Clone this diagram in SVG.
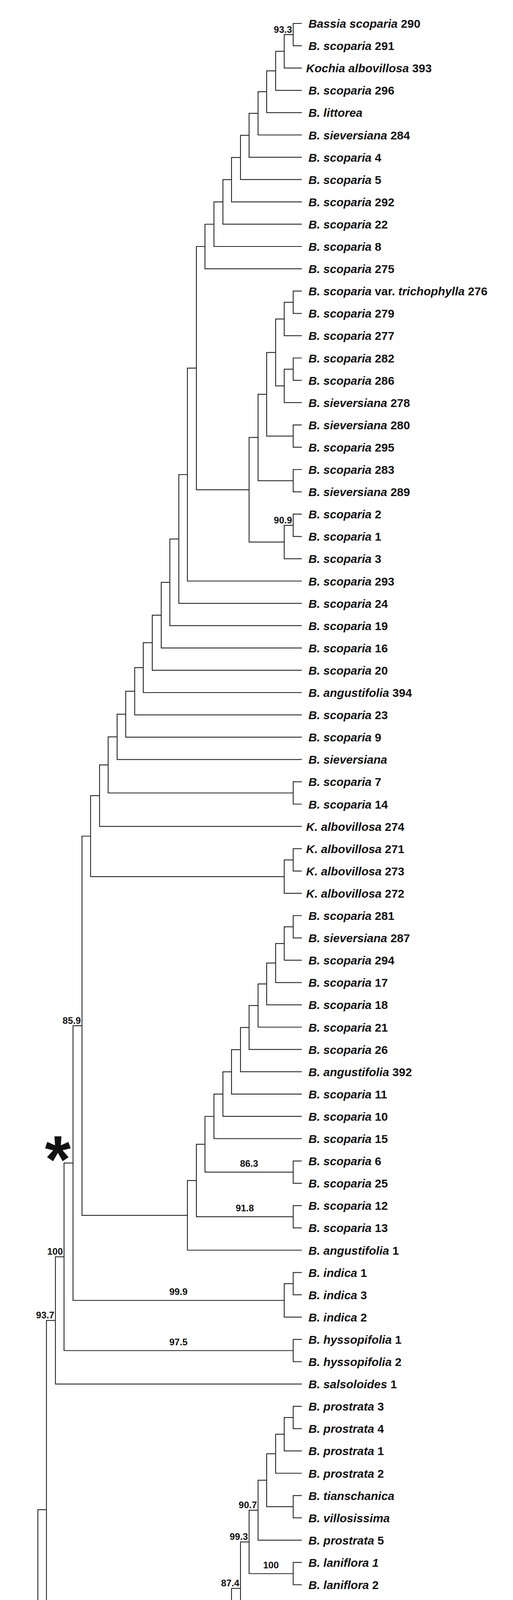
<svg xmlns="http://www.w3.org/2000/svg" width="1314" height="5256" viewBox="0 0 1314 5256">
<style>
.e{fill:none;stroke:#222;stroke-width:2.2}
text{font-family:"Liberation Sans",Arial,sans-serif;font-weight:bold;fill:#111}
.t{font-size:30px}
.i{font-style:italic}
.s{font-size:24px;text-anchor:end}
.m{font-size:24px;text-anchor:middle}
.o{font-size:36px}
</style>
<rect width="1314" height="5256" fill="#fff"/>
<g id="connectors" class="e">
<path d="M773 60H751V117.1H773"/>
<path d="M751 88.6H728V174.2H773"/>
<path d="M728 131.4H706V231.3H773"/>
<path d="M706 181.4H683V288.4H773"/>
<path d="M683 234.9H661V345.5H773"/>
<path d="M661 290.2H638V402.6H773"/>
<path d="M638 346.4H616V459.7H773"/>
<path d="M616 403.1H593V516.8H773"/>
<path d="M593 459.9H571V573.9H773"/>
<path d="M571 516.9H548V631H773"/>
<path d="M548 574H525V688.1H773"/>
<path d="M773 745.2H751V802.3H773"/>
<path d="M751 773.8H728V859.4H773"/>
<path d="M773 916.5H751V973.6H773"/>
<path d="M751 945.1H728V1030.7H773"/>
<path d="M728 816.6H706V987.9H728"/>
<path d="M773 1087.8H751V1144.9H773"/>
<path d="M706 902.3H683V1116.4H751"/>
<path d="M773 1202H751V1259.1H773"/>
<path d="M683 1009.3H661V1230.6H751"/>
<path d="M773 1316.2H751V1373.3H773"/>
<path d="M751 1344.8H728V1430.4H773"/>
<path d="M661 1119.9H638V1387.6H728"/>
<path d="M525 631H503V1253.8H638"/>
<path d="M503 942.4H480V1487.5H773"/>
<path d="M480 1215H458V1544.6H773"/>
<path d="M458 1379.8H435V1601.7H773"/>
<path d="M435 1490.8H413V1658.8H773"/>
<path d="M413 1574.8H390V1715.9H773"/>
<path d="M390 1645.4H367V1773H773"/>
<path d="M367 1709.2H345V1830.1H773"/>
<path d="M345 1769.7H322V1887.2H773"/>
<path d="M322 1828.4H300V1944.3H773"/>
<path d="M773 2001.4H751V2058.5H773"/>
<path d="M300 1886.4H277V2030H751"/>
<path d="M277 1958.2H255V2115.6H773"/>
<path d="M773 2172.7H751V2229.8H773"/>
<path d="M751 2201.3H728V2286.9H773"/>
<path d="M255 2036.9H232V2244.1H728"/>
<path d="M773 2344H751V2401.1H773"/>
<path d="M751 2372.6H728V2458.2H773"/>
<path d="M728 2415.4H706V2515.3H773"/>
<path d="M706 2465.4H683V2572.4H773"/>
<path d="M683 2518.9H661V2629.5H773"/>
<path d="M661 2574.2H638V2686.6H773"/>
<path d="M638 2630.4H616V2743.7H773"/>
<path d="M616 2687.1H593V2800.8H773"/>
<path d="M593 2743.9H571V2857.9H773"/>
<path d="M571 2800.9H548V2915H773"/>
<path d="M773 2972.1H751V3029.2H773"/>
<path d="M548 2858H525V3000.7H751"/>
<path d="M773 3086.3H751V3143.4H773"/>
<path d="M525 2929.3H503V3114.9H751"/>
<path d="M503 3022.1H480V3200.5H773"/>
<path d="M232 2140.5H210V3111.3H480"/>
<path d="M773 3257.6H751V3314.7H773"/>
<path d="M751 3286.2H728V3371.8H773"/>
<path d="M210 2625.9H187V3329H728"/>
<path d="M773 3428.9H751V3486H773"/>
<path d="M187 2977.4H164V3457.5H751"/>
<path d="M164 3217.4H142V3543.1H773"/>
<path d="M773 3600.2H751V3657.3H773"/>
<path d="M751 3628.8H728V3714.4H773"/>
<path d="M728 3671.6H706V3771.5H773"/>
<path d="M773 3828.6H751V3885.7H773"/>
<path d="M706 3721.6H683V3857.2H751"/>
<path d="M683 3789.4H661V3942.8H773"/>
<path d="M773 3999.9H751V4057H773"/>
<path d="M661 3866.1H638V4028.5H751"/>
<path d="M773 4114.1H751V4171.2H773"/>
<path d="M751 4142.7H728V4228.3H773"/>
<path d="M638 3947.3H616V4185.5H728"/>
<path d="M773 4285.4H751V4342.5H773"/>
<path d="M751 4314H728V4399.6H773"/>
<path d="M728 4356.8H706V4456.7H773"/>
<path d="M706 4406.8H683V4513.8H773"/>
<path d="M683 4460.3H661V4570.9H773"/>
<path d="M773 4628H751V4685.1H773"/>
<path d="M751 4656.6H728V4742.2H773"/>
<path d="M728 4699.4H706V4799.3H773"/>
<path d="M661 4515.6H638V4749.4H706"/>
<path d="M616 4066.4H593V4632.5H638"/>
<path d="M142 3380.3H119V4349.5H593"/>
<path d="M773 4856.4H751V4913.5H773"/>
<path d="M119 3864.9H97V4885H751"/>
<path d="M773 4970.6H751V5027.7H773"/>
<path d="M751 4999.2H728V5084.8H773"/>
<path d="M728 5042H706V5141.9H773"/>
<path d="M97 4374.9H74V5092H706"/>
<path d="M74 4733.4H52V5199H773"/>
<path d="M1145 4947V5227"/>
</g>
<g id="leaves" class="t">
<g id="L1"><text x="790" y="71"><tspan class="i">Bassia scoparia</tspan> 290</text></g>
<g id="L2"><text x="790" y="128.1"><tspan class="i">B. scoparia</tspan> 291</text></g>
<g id="L3"><text x="784" y="185.2"><tspan class="i">Kochia albovillosa</tspan> 393</text></g>
<g id="L4"><text x="790" y="242.3"><tspan class="i">B. scoparia</tspan> 296</text></g>
<g id="L5"><text x="790" y="299.4"><tspan class="i">B. littorea</tspan></text></g>
<g id="L6"><text x="790" y="356.5"><tspan class="i">B. sieversiana</tspan> 284</text></g>
<g id="L7"><text x="790" y="413.6"><tspan class="i">B. scoparia</tspan> 4</text></g>
<g id="L8"><text x="790" y="470.7"><tspan class="i">B. scoparia</tspan> 5</text></g>
<g id="L9"><text x="790" y="527.8"><tspan class="i">B. scoparia</tspan> 292</text></g>
<g id="L10"><text x="790" y="584.9"><tspan class="i">B. scoparia</tspan> 22</text></g>
<g id="L11"><text x="790" y="642"><tspan class="i">B. scoparia</tspan> 8</text></g>
<g id="L12"><text x="790" y="699.1"><tspan class="i">B. scoparia</tspan> 275</text></g>
<g id="L13"><text x="790" y="756.2"><tspan class="i">B. scoparia</tspan> var. <tspan class="i">trichophylla</tspan> 276</text></g>
<g id="L14"><text x="790" y="813.3"><tspan class="i">B. scoparia</tspan> 279</text></g>
<g id="L15"><text x="790" y="870.4"><tspan class="i">B. scoparia</tspan> 277</text></g>
<g id="L16"><text x="790" y="927.5"><tspan class="i">B. scoparia</tspan> 282</text></g>
<g id="L17"><text x="790" y="984.6"><tspan class="i">B. scoparia</tspan> 286</text></g>
<g id="L18"><text x="790" y="1041.7"><tspan class="i">B. sieversiana</tspan> 278</text></g>
<g id="L19"><text x="790" y="1098.8"><tspan class="i">B. sieversiana</tspan> 280</text></g>
<g id="L20"><text x="790" y="1155.9"><tspan class="i">B. scoparia</tspan> 295</text></g>
<g id="L21"><text x="790" y="1213"><tspan class="i">B. scoparia</tspan> 283</text></g>
<g id="L22"><text x="790" y="1270.1"><tspan class="i">B. sieversiana</tspan> 289</text></g>
<g id="L23"><text x="790" y="1327.2"><tspan class="i">B. scoparia</tspan> 2</text></g>
<g id="L24"><text x="790" y="1384.3"><tspan class="i">B. scoparia</tspan> 1</text></g>
<g id="L25"><text x="790" y="1441.4"><tspan class="i">B. scoparia</tspan> 3</text></g>
<g id="L26"><text x="790" y="1498.5"><tspan class="i">B. scoparia</tspan> 293</text></g>
<g id="L27"><text x="790" y="1555.6"><tspan class="i">B. scoparia</tspan> 24</text></g>
<g id="L28"><text x="790" y="1612.7"><tspan class="i">B. scoparia</tspan> 19</text></g>
<g id="L29"><text x="790" y="1669.8"><tspan class="i">B. scoparia</tspan> 16</text></g>
<g id="L30"><text x="790" y="1726.9"><tspan class="i">B. scoparia</tspan> 20</text></g>
<g id="L31"><text x="790" y="1784"><tspan class="i">B. angustifolia</tspan> 394</text></g>
<g id="L32"><text x="790" y="1841.1"><tspan class="i">B. scoparia</tspan> 23</text></g>
<g id="L33"><text x="790" y="1898.2"><tspan class="i">B. scoparia</tspan> 9</text></g>
<g id="L34"><text x="790" y="1955.3"><tspan class="i">B. sieversiana</tspan></text></g>
<g id="L35"><text x="790" y="2012.4"><tspan class="i">B. scoparia</tspan> 7</text></g>
<g id="L36"><text x="790" y="2069.5"><tspan class="i">B. scoparia</tspan> 14</text></g>
<g id="L37"><text x="784" y="2126.6"><tspan class="i">K. albovillosa</tspan> 274</text></g>
<g id="L38"><text x="784" y="2183.7"><tspan class="i">K. albovillosa</tspan> 271</text></g>
<g id="L39"><text x="784" y="2240.8"><tspan class="i">K. albovillosa</tspan> 273</text></g>
<g id="L40"><text x="784" y="2297.9"><tspan class="i">K. albovillosa</tspan> 272</text></g>
<g id="L41"><text x="790" y="2355"><tspan class="i">B. scoparia</tspan> 281</text></g>
<g id="L42"><text x="790" y="2412.1"><tspan class="i">B. sieversiana</tspan> 287</text></g>
<g id="L43"><text x="790" y="2469.2"><tspan class="i">B. scoparia</tspan> 294</text></g>
<g id="L44"><text x="790" y="2526.3"><tspan class="i">B. scoparia</tspan> 17</text></g>
<g id="L45"><text x="790" y="2583.4"><tspan class="i">B. scoparia</tspan> 18</text></g>
<g id="L46"><text x="790" y="2640.5"><tspan class="i">B. scoparia</tspan> 21</text></g>
<g id="L47"><text x="790" y="2697.6"><tspan class="i">B. scoparia</tspan> 26</text></g>
<g id="L48"><text x="790" y="2754.7"><tspan class="i">B. angustifolia</tspan> 392</text></g>
<g id="L49"><text x="790" y="2811.8"><tspan class="i">B. scoparia</tspan> 11</text></g>
<g id="L50"><text x="790" y="2868.9"><tspan class="i">B. scoparia</tspan> 10</text></g>
<g id="L51"><text x="790" y="2926"><tspan class="i">B. scoparia</tspan> 15</text></g>
<g id="L52"><text x="790" y="2983.1"><tspan class="i">B. scoparia</tspan> 6</text></g>
<g id="L53"><text x="790" y="3040.2"><tspan class="i">B. scoparia</tspan> 25</text></g>
<g id="L54"><text x="790" y="3097.3"><tspan class="i">B. scoparia</tspan> 12</text></g>
<g id="L55"><text x="790" y="3154.4"><tspan class="i">B. scoparia</tspan> 13</text></g>
<g id="L56"><text x="790" y="3211.5"><tspan class="i">B. angustifolia</tspan> 1</text></g>
<g id="L57"><text x="790" y="3268.6"><tspan class="i">B. indica</tspan> 1</text></g>
<g id="L58"><text x="790" y="3325.7"><tspan class="i">B. indica</tspan> 3</text></g>
<g id="L59"><text x="790" y="3382.8"><tspan class="i">B. indica</tspan> 2</text></g>
<g id="L60"><text x="790" y="3439.9"><tspan class="i">B. hyssopifolia</tspan> 1</text></g>
<g id="L61"><text x="790" y="3497"><tspan class="i">B. hyssopifolia</tspan> 2</text></g>
<g id="L62"><text x="790" y="3554.1"><tspan class="i">B. salsoloides</tspan> 1</text></g>
<g id="L63"><text x="790" y="3611.2"><tspan class="i">B. prostrata</tspan> 3</text></g>
<g id="L64"><text x="790" y="3668.3"><tspan class="i">B. prostrata</tspan> 4</text></g>
<g id="L65"><text x="790" y="3725.4"><tspan class="i">B. prostrata</tspan> 1</text></g>
<g id="L66"><text x="790" y="3782.5"><tspan class="i">B. prostrata</tspan> 2</text></g>
<g id="L67"><text x="790" y="3839.6"><tspan class="i">B. tianschanica</tspan></text></g>
<g id="L68"><text x="790" y="3896.7"><tspan class="i">B. villosissima</tspan></text></g>
<g id="L69"><text x="790" y="3953.8"><tspan class="i">B. prostrata</tspan> 5</text></g>
<g id="L70"><text x="790" y="4010.9"><tspan class="i">B. laniflora 1</tspan></text></g>
<g id="L71"><text x="790" y="4068"><tspan class="i">B. laniflora</tspan> 2</text></g>
<g id="L72"><text x="790" y="4125.1"><tspan class="i">B. lasiantha</tspan></text></g>
<g id="L73"><text x="790" y="4182.2"><tspan class="i">B. pilosa</tspan> 1</text></g>
<g id="L74"><text x="790" y="4239.3"><tspan class="i">B. pilosa</tspan> 2</text></g>
<g id="L75"><text x="790" y="4296.4"><tspan class="i">B. iranica</tspan></text></g>
<g id="L76"><text x="790" y="4353.5"><tspan class="i">B. odontoptera</tspan></text></g>
<g id="L77"><text x="790" y="4410.6"><tspan class="i">B. stellaris</tspan> 2</text></g>
<g id="L78"><text x="790" y="4467.7"><tspan class="i">B. stellaris</tspan> 1</text></g>
<g id="L79"><text x="790" y="4524.8"><tspan class="i">B. muricata</tspan></text></g>
<g id="L80"><text x="790" y="4581.9"><tspan class="i">B. eriophora</tspan></text></g>
<g id="L81"><text x="790" y="4639"><tspan class="i">B. arabica</tspan> 1</text></g>
<g id="L82"><text x="790" y="4696.1"><tspan class="i">B. arabica</tspan> 2</text></g>
<g id="L83"><text x="790" y="4753.2"><tspan class="i">B. salsoloides</tspan> 2</text></g>
<g id="L84"><text x="790" y="4810.3"><tspan class="i">B. tomentosa</tspan></text></g>
<g id="L85"><text x="790" y="4867.4"><tspan class="i">B. eriantha</tspan> 1</text></g>
<g id="L86"><text x="790" y="4924.5"><tspan class="i">B. eriantha</tspan> 2</text></g>
<g id="L87"><text x="784" y="4981.6"><tspan class="i">Camphorosma lessingii</tspan></text></g>
<g id="L88"><text x="784" y="5038.7"><tspan class="i">C. monspeliaca</tspan></text></g>
<g id="L89"><text x="784" y="5095.8"><tspan class="i">C. songorica</tspan></text></g>
<g id="L90"><text x="784" y="5152.9"><tspan class="i">C. annua</tspan></text></g>
<g id="L91"><text x="784" y="5210"><tspan class="i">Sedobassia sedoides</tspan></text></g>
</g>
<g id="support">
<text class="s" x="748" y="83.6">93.3</text>
<text class="s" x="748" y="1339.8">90.9</text>
<text class="s" x="207" y="2620.9">85.9</text>
<text class="s" x="161" y="3212.4">100</text>
<text class="s" x="139" y="3375.3">93.7</text>
<text class="s" x="658" y="3861.1">90.7</text>
<text class="s" x="635" y="3942.3">99.3</text>
<text class="s" x="613" y="4061.4">87.4</text>
<text class="s" x="748" y="4137.7">86.6</text>
<text class="s" x="94" y="4369.9">100</text>
<text class="s" x="725" y="4351.8">89.4</text>
<text class="s" x="703" y="4401.8">99.4</text>
<text class="s" x="680" y="4455.3">93</text>
<text class="s" x="748" y="4651.6">94.9</text>
<text class="s" x="703" y="4744.4">92.9</text>
<text class="s" x="633" y="4658">86.7</text>
<text class="s" x="748" y="4994.2">98.5</text>
<text class="m" x="638" y="2986.7">86.3</text>
<text class="m" x="627" y="3100.9">91.8</text>
<text class="m" x="457" y="3315">99.9</text>
<text class="m" x="457" y="3443.5">97.5</text>
<text class="m" x="694" y="4014.5">100</text>
<text class="m" x="672" y="4171.5">98</text>
<text class="m" x="424" y="4871">99.4</text>
<text class="m" x="390" y="5078">100</text>
</g>
<g id="marker-asterisk"><text x="148" y="3027" style="font-size:170px;text-anchor:middle">*</text></g>
<g id="outgroups-label">
<text class="o" x="1160" y="5092">Out-</text>
<text class="o" x="1160" y="5134">groups</text>
</g>
</svg>
